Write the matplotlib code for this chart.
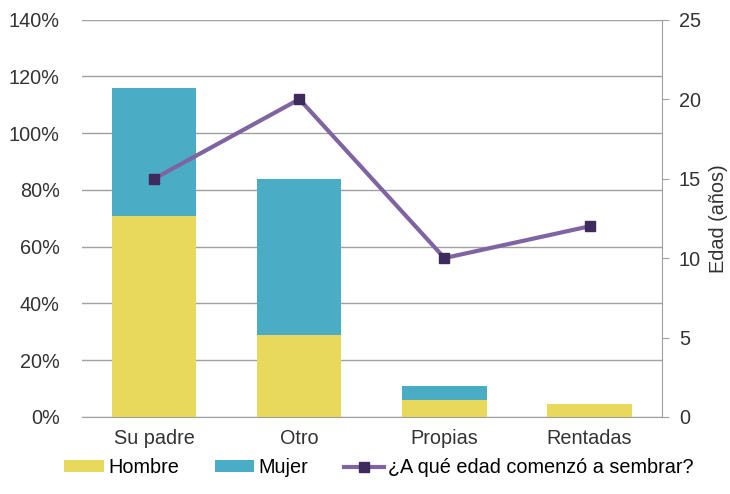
import matplotlib
matplotlib.use("Agg")
import matplotlib.pyplot as plt
from matplotlib.ticker import FuncFormatter, MultipleLocator
import numpy as np

categories = ["Su padre", "Otro", "Propias", "Rentadas"]
hombre = [71, 29, 6, 4.5]
mujer = [45, 55, 5, 0]
edad = [15, 20, 10, 12]

yellow = "#E8D95C"
teal = "#4BACC6"
purple = "#8064A2"
dark = "#3F2A5E"

plt.rcParams['font.family'] = ['Liberation Sans', 'DejaVu Sans']
FS = 14.3

fig = plt.figure(figsize=(7.3, 4.94), dpi=100)
ax = fig.add_axes([0.112, 0.156, 0.795, 0.804])
x = np.arange(len(categories))
w = 0.58
ax.bar(x, hombre, w, color=yellow, label="Hombre", zorder=2)
ax.bar(x, mujer, w, bottom=hombre, color=teal, label="Mujer", zorder=2)
ax.set_ylim(0, 140)
ax.set_xlim(-0.5, 3.5)
ax.yaxis.set_major_locator(MultipleLocator(20))
ax.yaxis.set_major_formatter(FuncFormatter(lambda v, p: f"{int(v)}%"))
ax.grid(axis='y', color='#A0A0A0', linewidth=1, zorder=0)
ax.set_axisbelow(True)
for s in ['top', 'right', 'left']:
    ax.spines[s].set_visible(False)
ax.spines['bottom'].set_color('#A0A0A0')
ax.tick_params(axis='y', length=0, labelsize=FS, colors='#333333', pad=16)
ax.tick_params(axis='x', length=0, labelsize=FS, colors='#333333', pad=9)
ax.set_xticks(x)
ax.set_xticklabels(categories)

ax2 = ax.twinx()
ax2.plot(x, edad, color=purple, linewidth=3, marker='s', markersize=7,
         markerfacecolor=dark, markeredgecolor=dark, label="¿A qué edad comenzó a sembrar?", zorder=3)
ax2.set_ylim(0, 25)
ax2.yaxis.set_major_locator(MultipleLocator(5))
for s in ['top', 'left', 'bottom']:
    ax2.spines[s].set_visible(False)
ax2.spines['right'].set_color('#A0A0A0')
ax2.tick_params(axis='y', length=5, color='#A0A0A0', labelsize=FS, colors='#333333', pad=7)
ax2.set_ylabel("Edad (años)", fontsize=FS, color='#333333', labelpad=6)

h1, l1 = ax.get_legend_handles_labels()
h2, l2 = ax2.get_legend_handles_labels()
fig.legend(h1 + h2, l1 + l2, loc='lower center', bbox_to_anchor=(0.519, -0.002), ncol=3,
           frameon=False, fontsize=FS, handlelength=2.0, handleheight=0.5,
           columnspacing=1.8, handletextpad=0.2)

fig.savefig("out.png", dpi=100)
